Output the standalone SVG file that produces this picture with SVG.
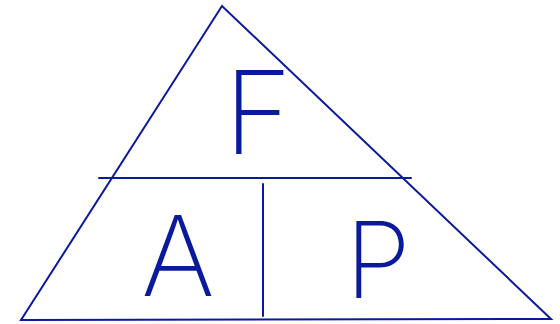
<svg xmlns="http://www.w3.org/2000/svg" width="560" height="324" viewBox="0 0 560 324">
<style>
.ln{stroke:#0a1a9c;stroke-width:2;fill:none;stroke-linecap:round}
.lt{font-family:Inter,"DejaVu Sans",sans-serif;font-weight:200;fill:#0a1a9c;text-anchor:middle}
</style>
<rect width="560" height="324" fill="#fff"/>
<g id="connectors">
<polygon class="ln" points="222,6 21,320 551,319"/>
<line class="ln" x1="99" y1="178" x2="411" y2="178"/>
<line class="ln" x1="263" y1="184" x2="263" y2="316"/>
</g>
<g id="node-F"><text class="lt" x="258" y="154" font-size="116">F</text></g>
<g id="node-A"><text class="lt" x="178" y="296" font-size="112">A</text></g>
<g id="node-P"><text class="lt" x="378" y="298" font-size="106">P</text></g>
</svg>
